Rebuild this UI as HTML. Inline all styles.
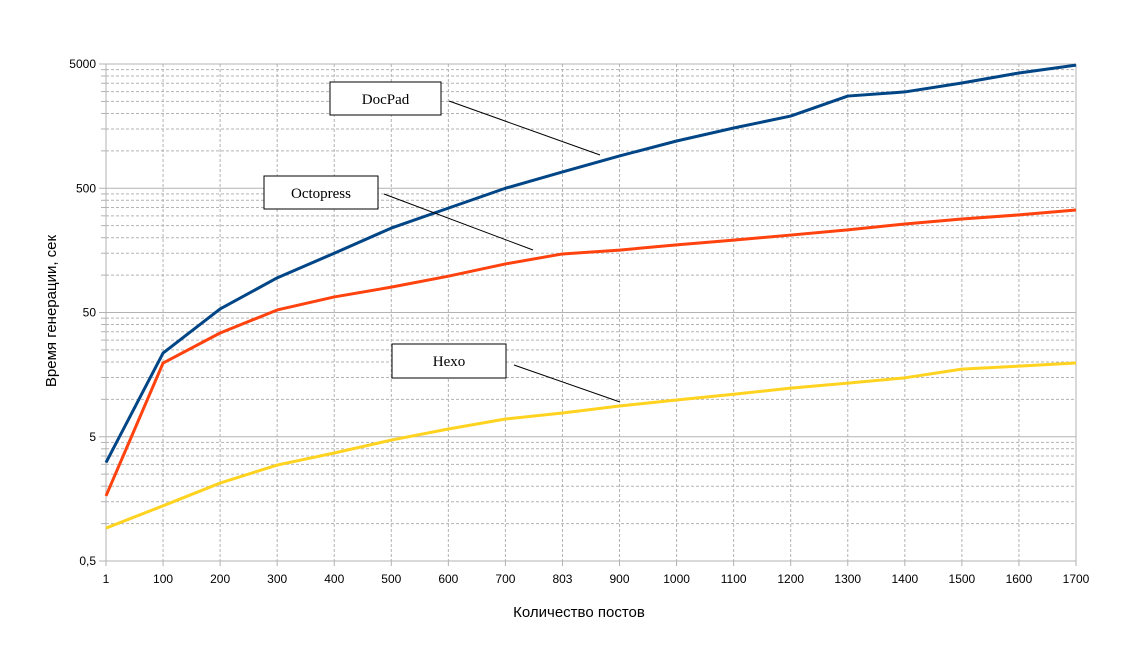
<!DOCTYPE html>
<html><head><meta charset="utf-8"><style>
body{margin:0;background:#fff}
svg{font-family:"Liberation Sans",sans-serif}
</style></head><body>
<svg id="c" width="1136" height="642" xmlns="http://www.w3.org/2000/svg">
<g id="grid"></g><g id="axes"></g><g id="series"></g>
<g font-family="Liberation Serif" font-size="15">
<line x1="449" y1="101" x2="600" y2="155" stroke="#000"/>
<rect x="330" y="82" width="111" height="33" fill="#fff" stroke="#000"/>
<text x="385.5" y="104" text-anchor="middle">DocPad</text>
<line x1="384" y1="194" x2="533" y2="250" stroke="#000"/>
<rect x="264" y="176" width="114" height="33" fill="#fff" stroke="#000"/>
<text x="321" y="198" text-anchor="middle">Octopress</text>
<line x1="514" y1="365" x2="620" y2="402" stroke="#000"/>
<rect x="392" y="344" width="114" height="34" fill="#fff" stroke="#000"/>
<text x="449" y="366" text-anchor="middle">Hexo</text>
</g>
<text x="579" y="617" text-anchor="middle" font-size="15">Количество постов</text>
<text transform="translate(56,311) rotate(-90)" text-anchor="middle" font-size="15">Время генерации, сек</text>
</svg>
<script>
const categories=["1","100","200","300","400","500","600","700","803","900","1000","1100","1200","1300","1400","1500","1600","1700"];
const docpad=[3.1,23.6,53.4,95,150,239,346,500,676,910,1200,1527,1905,2760,2980,3515,4235,4900];
const octopress=[1.67,19.6,34.2,52.4,66.7,80,98,123,148,159,175,191,210,231,258,283,305,334];
const hexo=[0.92,1.39,2.12,2.96,3.7,4.7,5.77,6.95,7.76,8.84,9.88,11.0,12.3,13.5,14.9,17.5,18.5,19.6];
const yTicks=[0.5,5,50,500,5000];
const yTickLabels=["0,5","5","50","500","5000"];
const NS="http://www.w3.org/2000/svg";
const X0=106,X1=1076,Y0=561,Y1=64;
function xs(i){return X0+(X1-X0)*i/(categories.length-1);}
function ys(v){return Y0-(Math.log10(v/0.5))/4*(Y0-Y1);}
function mk(t,a,p){const e=document.createElementNS(NS,t);for(const k in a)e.setAttribute(k,a[k]);p.appendChild(e);return e;}
const grid=document.getElementById('grid'),axes=document.getElementById('axes'),ser=document.getElementById('series');
for(let d=0;d<4;d++){for(let k=2;k<=9;k++){const y=ys(0.5*Math.pow(10,d)*k);
 const l=mk('line',{x1:X0,x2:X1,y1:y,y2:y,stroke:'#b3b3b3','stroke-dasharray':'3,2'},grid);
 
 
 mk('line',{x1:X0-5,x2:X0,y1:y,y2:y,stroke:'#b3b3b3'},grid);}}
categories.forEach((c,i)=>{const x=xs(i);
 if(i>0){const l=mk('line',{x1:x,x2:x,y1:Y1,y2:Y0,stroke:'#b3b3b3','stroke-dasharray':'3,2'},grid);
 
 }
 mk('line',{x1:x,x2:x,y1:Y0,y2:Y0+5,stroke:'#b3b3b3'},axes);
 const t=mk('text',{x:x,y:Y0+22,'text-anchor':'middle','font-size':12},axes);t.textContent=c;
 
 });
yTicks.forEach((v,i)=>{const y=ys(v);
 const l=mk('line',{x1:X0-7,x2:X1,y1:y,y2:y,stroke:'#b3b3b3'},axes);
 
 
 const t=mk('text',{x:X0-10,y:y+4,'text-anchor':'end','font-size':12},axes);t.textContent=yTickLabels[i];
 
 });
mk('line',{x1:X0,x2:X0,y1:Y1,y2:Y0,stroke:'#b3b3b3'},axes);
mk('line',{x1:X1,x2:X1,y1:Y1,y2:Y0,stroke:'#b3b3b3'},axes);
[[hexo,'#ffd320','series-hexo'],[octopress,'#ff420e','series-octopress'],[docpad,'#004586','series-docpad']].forEach(([d,c,n])=>{
 const p=mk('polyline',{points:d.map((v,i)=>xs(i)+','+ys(v)).join(' '),fill:'none',stroke:c,'stroke-width':3,'stroke-linejoin':'round'},ser);
 
 });
</script>
</body></html>
